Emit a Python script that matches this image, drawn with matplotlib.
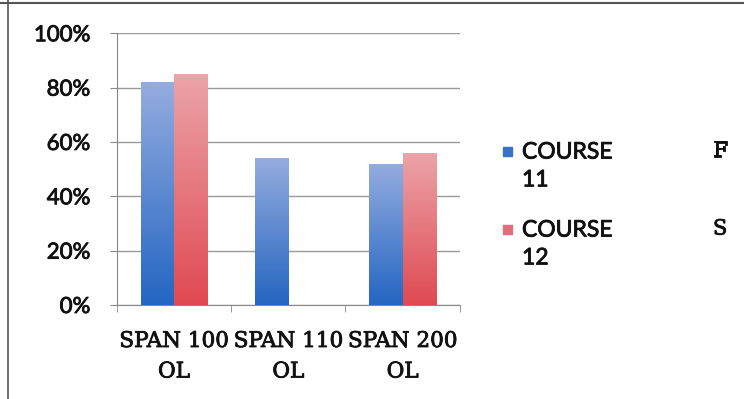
import numpy as np
import matplotlib
matplotlib.use('Agg')
from matplotlib import pyplot as plt
from matplotlib import patheffects as pe
from matplotlib.colors import LinearSegmentedColormap
from matplotlib.patches import Rectangle
from matplotlib.lines import Line2D

# course names and pass rates (%)
COURSES = ['SPAN 100\nOL', 'SPAN 110\nOL', 'SPAN 200\nOL']
COURSE_F = [82, 54, 52]
COURSE_S = [85, 0, 56]
YTICKS = [0, 20, 40, 60, 80, 100]

BLUE = LinearSegmentedColormap.from_list('blu', ['#2466c2', '#94acdf'])
RED = LinearSegmentedColormap.from_list('rd', ['#e04a52', '#eba4a8'])
INK = '#111111'
# slightly heavier strokes on all text
HEAVY = [pe.withStroke(linewidth=0.6, foreground=INK)]

fig = plt.figure(figsize=(7.44, 3.99), dpi=100)
ax = fig.add_axes([0.157, 0.2356, 0.461, 0.681])

X = np.arange(len(COURSES))
W = 0.29
grad = np.linspace(0, 1, 100).reshape(-1, 1)


def gradbars(xs, vals, cmap):
    bars = ax.bar(xs, vals, W, color='none', zorder=3)
    for b in bars:
        if b.get_height() <= 0:
            continue
        x0, y0 = b.get_x(), b.get_y()
        im = ax.imshow(grad, cmap=cmap, origin='lower', aspect='auto',
                       extent=[x0, x0 + b.get_width(), y0, y0 + b.get_height()],
                       zorder=3, interpolation='bilinear')
        im.set_clip_path(b)
    return bars


gradbars(X - 0.145, COURSE_F, BLUE)
gradbars(X + 0.145, COURSE_S, RED)

ax.set_xlim(-0.5, len(COURSES) - 0.5)
ax.set_ylim(0, 100)
ax.set_yticks(YTICKS)
ax.set_yticklabels(['{}%'.format(v) for v in YTICKS], fontfamily='Lato',
                   fontsize=16, color=INK, path_effects=HEAVY)
ax.set_xticks(X)
ax.set_xticklabels(COURSES, fontfamily='DejaVu Serif', fontsize=15.5,
                   linespacing=1.5, color=INK, path_effects=HEAVY)
ax.tick_params(axis='x', length=0, pad=18)
ax.tick_params(axis='y', length=5, color='#888888', pad=14)
# boundary ticks between categories
ax.set_xticks(np.arange(-0.5, len(COURSES)), minor=True)
ax.tick_params(axis='x', which='minor', length=5, color='#888888')

ax.grid(axis='y', color='#9a9a9a', linewidth=1.0, zorder=0)
for s in ['top', 'right']:
    ax.spines[s].set_visible(False)
for s in ['left', 'bottom']:
    ax.spines[s].set_color('#888888')

# legend drawn by hand
fig.patches.append(Rectangle((503 / 744, 1 - 156 / 399), 9 / 744, 9 / 399,
                             transform=fig.transFigure, color='#3a72c4'))
fig.patches.append(Rectangle((503 / 744, 1 - 234 / 399), 9 / 744, 9 / 399,
                             transform=fig.transFigure, color='#e06c7c'))
fig.text(522 / 744, 1 - 166 / 399, 'COURSE\n11', fontfamily='Lato',
         fontsize=16.5, va='center', linespacing=1.4, color=INK,
         path_effects=HEAVY)
fig.text(522 / 744, 1 - 244 / 399, 'COURSE\n12', fontfamily='Lato',
         fontsize=16.5, va='center', linespacing=1.4, color=INK,
         path_effects=HEAVY)
fig.text(713 / 744, 1 - 151 / 399, 'F', fontfamily='DejaVu Serif',
         fontsize=15, va='center', color=INK, path_effects=HEAVY)
fig.text(713 / 744, 1 - 229 / 399, 'S', fontfamily='DejaVu Serif',
         fontsize=15, va='center', color=INK, path_effects=HEAVY)

# outer frame edges
fig.add_artist(Line2D([0, 1], [1 - 3 / 399] * 2, transform=fig.transFigure,
                      color='#555555', linewidth=1.5))
fig.add_artist(Line2D([8 / 744] * 2, [0, 1], transform=fig.transFigure,
                      color='#555555', linewidth=1.2))

plt.savefig('out.png', dpi=100)
